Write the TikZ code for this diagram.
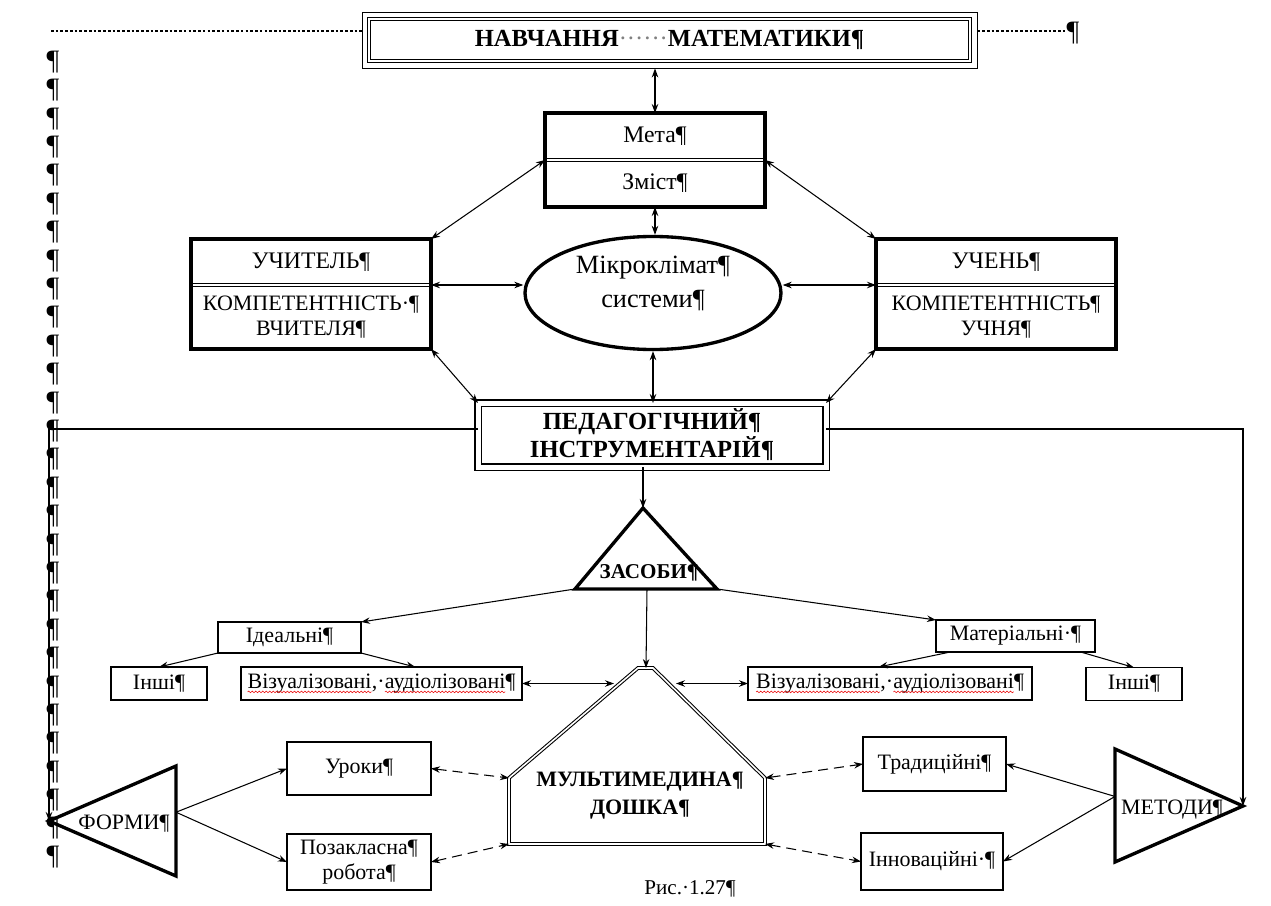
\documentclass[tikz,border=0pt]{standalone}
\usepackage{fontspec}
\setmainfont{Liberation Serif}
\usepackage{xcolor}
\usetikzlibrary{positioning,fit,backgrounds,arrows.meta,calc,shapes.geometric,decorations.pathmorphing}
\definecolor{mdline}{RGB}{0,0,0}
\definecolor{mddots}{RGB}{128,128,128}
\definecolor{mdspell}{RGB}{235,20,20}
\tikzset{
  txt/.style={font=\fontsize{12.5}{14}\selectfont, align=center, inner sep=0pt, outer sep=0pt},
  hdr/.style={font=\bfseries\fontsize{14}{16}\selectfont, align=center, inner sep=0pt, outer sep=0pt},
  cell/.style={txt, minimum width=48mm},
  big/.style={font=\fontsize{13.5}{15}\selectfont},
  box/.style={txt, draw=mdline, line width=0.6pt},
  heavy/.style={draw=mdline, line width=2pt},
  divider/.style={draw=mdline, double, double distance=1.2pt, line width=0.5pt},
  dbl/.style={draw=mdline, double, double distance=1mm, line width=0.85pt},
  tri/.style={draw=mdline, line width=1.9pt},
  boardline/.style={draw=mdline, double, double distance=0.9pt, line width=0.6pt},
  lead/.style={draw=mdline, line width=1.7pt, dash pattern=on 1.5pt off 1.2pt},
  pil/.style={font=\fontsize{16}{18}\selectfont, inner sep=0pt},
  bi/.style={
    {Stealth[length=1.8mm,width=1.3mm]}-{Stealth[length=1.8mm,width=1.3mm]},
    draw=mdline, line width=0.6pt
  },
  ar/.style={-{Stealth[length=1.8mm,width=1.3mm]}, draw=mdline, line width=0.6pt},
  bid/.style={bi, dash pattern=on 2mm off 1.2mm},
  spell/.style={draw=mdspell, line width=0.35pt, decorate,
    decoration={snake, amplitude=0.45pt, segment length=2pt}},
}
% red wavy mark under a word
\newcommand{\spellmark}[1]{\tikz[baseline=(sw.base)]{\node[draw=none, fill=none, inner sep=0pt, outer sep=0pt, minimum width=0pt, minimum height=0pt] (sw) {#1}; \draw[spell] ([yshift=-2pt]sw.base west) -- ([yshift=-2pt]sw.base east);}}

\begin{document}
\begin{tikzpicture}[x=0.2mm, y=-0.2mm]
  \useasboundingbox (0,0) rectangle (1271,906);

  % ===== title line with leaders =====
  \node[hdr, dbl, line width=0.8pt, double distance=1pt, minimum width=120.2mm, minimum height=8.4mm] (title) at (669.5,40)
    {НАВЧАННЯ{\mdseries\color{mddots}······}МАТЕМАТИКИ¶};
  \node[fit=(title), inner sep=1.4mm, draw=mdline, line width=0.5pt] (titleframe) {};
  \coordinate (dotL) at (51,31);
  \node[pil] (pilR) at (1073,33) {¶};
  \draw[lead] (dotL) -- (dotL -| titleframe.west);
  \draw[lead] (titleframe.east |- dotL) -- (dotL -| pilR.west);

  % paragraph marks down the left margin
  \foreach \k in {0,...,28}
    \node[pil] (pil\k) at (53, 62+28.39*\k) {¶};

  % ===== aim / content =====
  \node[cell, big, minimum width=44mm, minimum height=9.4mm] (meta) at (655,136.5) {Мета¶};
  \node[cell, big, minimum width=44mm, minimum height=9.4mm, below=0mm of meta] (zmist) {Зміст¶};
  \draw[divider] (meta.south west) -- (meta.south east);
  \draw[heavy] (meta.north west) rectangle (zmist.south east);

  % ===== teacher, climate, pupil =====
  \node[ellipse, draw=mdline, line width=1.9pt, minimum width=51.2mm, minimum height=22.6mm,
    font=\fontsize{15}{17}\selectfont, align=center, inner sep=0pt] (micro) at (653,293)
    {Мікроклімат¶\\[2.3pt]системи¶\rule[-4.4mm]{0pt}{1pt}};

  \node[cell, big, minimum height=9.2mm] (teach) at (311,262) {УЧИТЕЛЬ¶};
  \node[cell, minimum height=12.8mm, below=0mm of teach] (teachc) {КОМПЕТЕНТНІСТЬ·¶\\ВЧИТЕЛЯ¶};
  \draw[divider] (teach.south west) -- (teach.south east);
  \draw[heavy] (teach.north west) rectangle (teachc.south east);

  \node[cell, big, minimum height=9.2mm] (pupil) at (996,262) {УЧЕНЬ¶};
  \node[cell, minimum height=12.8mm, below=0mm of pupil] (pupilc) {КОМПЕТЕНТНІСТЬ¶\\УЧНЯ¶};
  \draw[divider] (pupil.south west) -- (pupil.south east);
  \draw[heavy] (pupil.north west) rectangle (pupilc.south east);

  % ===== toolkit and means =====
  \node[hdr, dbl, minimum width=69.6mm, minimum height=12.8mm] (ped) at (652,435)
    {ПЕДАГОГІЧНИЙ¶\\ІНСТРУМЕНТАРІЙ¶};

  \coordinate (zapex) at (643,508);
  \coordinate (zbl) at (575,589);
  \coordinate (zbr) at (717,589);
  \draw[tri] (zapex) -- (zbl) -- (zbr) -- cycle;
  \node[hdr, font=\bfseries\fontsize{12}{14}\selectfont] (zasoby) at (649,573) {ЗАСОБИ¶};

  \node[box, minimum width=28.6mm, minimum height=6.2mm] (ideal) at (289.5,637.5) {Ідеальні¶};
  \node[box, minimum width=19.2mm, minimum height=6.6mm] (otherL) at (159,683.5) {Інші¶};
  \node[box, minimum width=56.2mm, minimum height=6.6mm] (visL) at (381.5,683.5)
    {\spellmark{Візуалізовані},·\spellmark{аудіолізовані}¶};
  \node[box, minimum width=31.8mm, minimum height=6.4mm] (mater) at (1015.5,636) {Матеріальні·¶};
  \node[box, minimum width=56.8mm, minimum height=6.6mm] (visR) at (890,683.5)
    {\spellmark{Візуалізовані},·\spellmark{аудіолізовані}¶};
  \node[box, minimum width=19.2mm, minimum height=6.6mm] (otherR) at (1134,684) {Інші¶};

  % ===== multimedia board =====
  \coordinate (bLc) at (509,778);
  \coordinate (bTL) at (638,668);
  \coordinate (bTR) at (653,668);
  \coordinate (bRc) at (765,778);
  \coordinate (bBR) at (765,844);
  \coordinate (bBL) at (509,844);
  \draw[boardline] (bLc) -- (bTL) -- (bTR) -- (bRc) -- (bBR) -- (bBL) -- cycle;
  \node[hdr, font=\bfseries\fontsize{12.5}{16}\selectfont] (board) at (640,796) {МУЛЬТИМЕДИНА¶\\ДОШКА¶};

  % ===== forms and methods =====
  \node[box, minimum width=28.8mm, minimum height=10.6mm] (lessons) at (359,768.5) {Уроки¶};
  \node[box, minimum width=28.8mm, minimum height=11.2mm] (extra) at (359,862) {Позакласна¶\\робота¶};
  \node[box, minimum width=28.6mm, minimum height=10.8mm] (trad) at (934.5,764) {Традиційні¶};
  \node[box, minimum width=28.4mm, minimum height=11.4mm] (innov) at (932,861.5) {Інноваційні·¶};

  \coordinate (fapex) at (49,821);
  \coordinate (ftop) at (176,766);
  \coordinate (fbot) at (176,876);
  \draw[tri] (fapex) -- (ftop) -- (fbot) -- cycle;
  \node[txt] (forms) at (124,824) {ФОРМИ¶};

  \coordinate (mapex) at (1243,806);
  \coordinate (mtop) at (1115,749);
  \coordinate (mbot) at (1115,862);
  \draw[tri] (mapex) -- (mtop) -- (mbot) -- cycle;
  \node[txt] (methods) at (1172,810) {МЕТОДИ¶};

  \node[txt, font=\fontsize{12}{14}\selectfont] (caption) at (690,889) {Рис.·1.27¶};

  % ===== edges, upper part =====
  \draw[bi] (meta.north |- titleframe.south) -- (meta.north);
  \draw[bi] (zmist.south) -- (zmist.south |- micro.north);
  \draw[bi] (meta.south west) -- (teach.north east);
  \draw[bi] (meta.south east) -- (pupil.north west);
  \draw[bi] (teach.south east) -- (teach.south east -| micro.west);
  \draw[bi] (pupil.south west) -- (pupil.south west -| micro.east);
  \draw[bi] (teachc.south east) -- (ped.north west);
  \draw[bi] (pupilc.south west) -- (ped.north east);
  \draw[bi] (micro.south) -- (micro.south |- ped.north);

  % toolkit down to the means, and out to forms / methods
  \draw[ar] (zapex |- ped.south) -- (zapex);
  \draw[ar] ([yshift=1.2mm]ped.west) -| (fapex);
  \draw[ar] ([yshift=1.2mm]ped.east) -| (mapex);

  % means tree
  \coordinate (zbot) at (647,589);
  \coordinate (bapex) at (646,668);
  \draw[ar] (zbl) -- (ideal.north east);
  \draw[ar] (zbr) -- (mater.north west);
  \draw[ar] (zbot) -- (bapex);
  \draw[ar] (ideal.south west) -- (otherL.north);
  \draw[ar] (ideal.south east) -- ($(visL.north west)!0.62!(visL.north east)$);
  \draw[ar] ($(mater.south west)!0.09!(mater.south east)$) -- ($(visR.north west)!0.46!(visR.north east)$);
  \draw[ar] ($(mater.south west)!0.91!(mater.south east)$) -- (otherR.north);
  \coordinate (bL) at (614,683.5);
  \coordinate (bR) at (676,683.5);
  \draw[bi] (visL.east) -- (bL);
  \draw[bi] (visR.west) -- (bR);

  % board to forms / methods, dashed
  \draw[bid] (lessons.east) -- (bLc);
  \draw[bid] (extra.east) -- (bBL);
  \draw[bid] (bRc) -- (trad.west);
  \draw[bid] (bBR) -- (innov.west);

  \coordinate (fout) at ($(ftop)!0.42!(fbot)$);
  \draw[ar] (fout) -- (lessons.west);
  \draw[ar] (fout) -- (extra.west);
  \coordinate (mout) at ($(mtop)!0.42!(mbot)$);
  \draw[ar] (mout) -- (trad.east);
  \draw[ar] (mout) -- (innov.east);

\end{tikzpicture}
\end{document}
